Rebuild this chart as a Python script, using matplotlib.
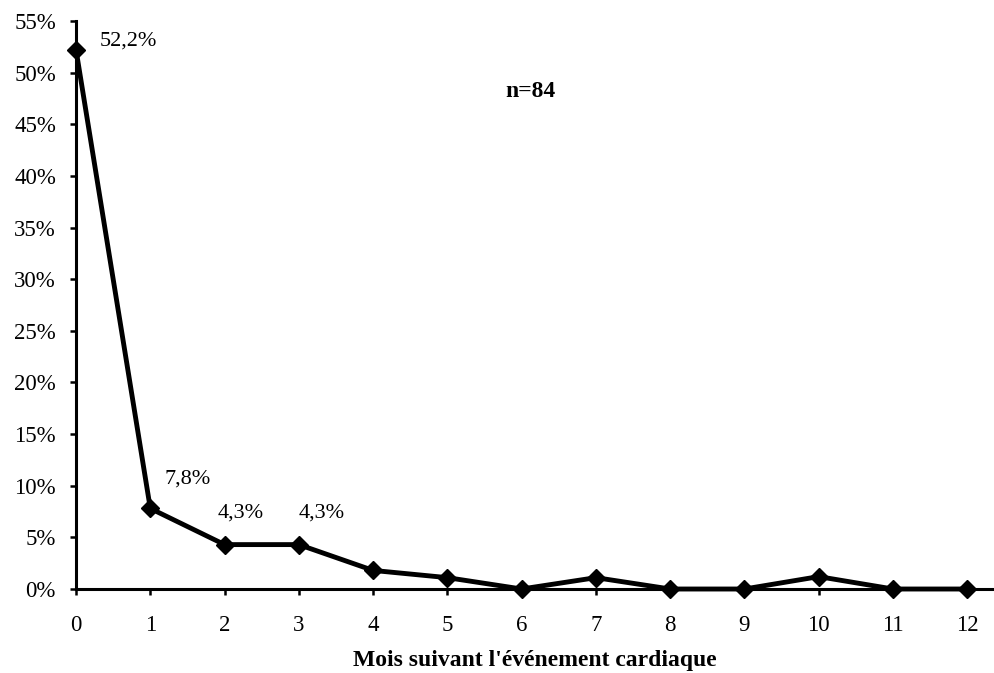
import matplotlib.pyplot as plt
from matplotlib.ticker import FuncFormatter

plt.rcParams['font.family'] = ['Liberation Serif', 'DejaVu Serif']

# months after the cardiac event and share of events (%)
mois = [0, 1, 2, 3, 4, 5, 6, 7, 8, 9, 10, 11, 12]
pourcent = [52.2, 7.8, 4.3, 4.3, 1.8, 1.1, 0.0, 1.1, 0.0, 0.0, 1.2, 0.0, 0.0]

# labelled points: index, text, offset in pixels
etiquettes = [(0, '52,2%', (24, 9)), (1, '7,8%', (14, 29)),
              (2, '4,3%', (-7, 32)), (3, '4,3%', (0, 32))]

fig = plt.figure(figsize=(9.94, 6.73), dpi=100)
ax = fig.add_axes([0.0765, 0.1248, 0.9235, 0.844])

ax.plot(mois, pourcent, color='black', linewidth=3.5, marker='D', markersize=9,
        clip_on=False, zorder=3)

for i, txt, off in etiquettes:
    ax.annotate(txt, (mois[i], pourcent[i]), xytext=off, textcoords='offset pixels',
                fontsize=16, ha='left', va='center')

ax.text(0.4946, 0.875, 'n=84', transform=ax.transAxes, fontsize=17,
        fontweight='bold', ha='center', va='center')

ax.set_xlim(0, 12.36)
ax.set_ylim(0, 55)
ax.set_xticks(mois)
ax.set_yticks(range(0, 56, 5))
ax.yaxis.set_major_formatter(FuncFormatter(lambda v, p: f'{v:.0f}%'))
ax.tick_params(axis='both', labelsize=16.5, width=1.8, length=4.5, direction='out',
               color='black')
ax.tick_params(axis='x', pad=14)
ax.tick_params(axis='y', pad=10)
ax.spines['top'].set_visible(False)
ax.spines['right'].set_visible(False)
ax.spines['left'].set_linewidth(2.2)
ax.spines['bottom'].set_linewidth(2.2)

ax.set_xlabel("Mois suivant l'événement cardiaque", fontsize=17,
              fontweight='bold', labelpad=10)

fig.savefig('out.png', dpi=100)
